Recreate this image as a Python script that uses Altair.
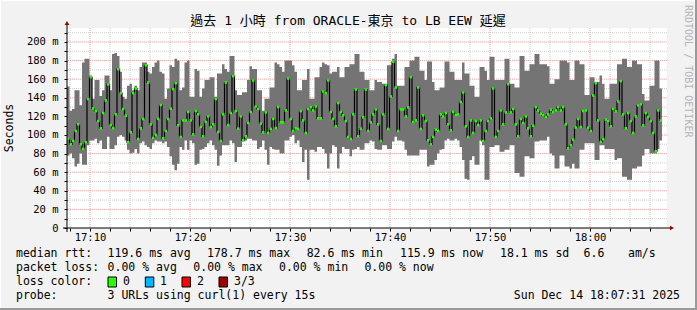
import altair as alt
import pandas as pd

# ---------------- values (milliseconds) ----------------
RTT_MAX = [
    152, 126, 128, 148, 148, 132, 178, 182, 182, 164, 139, 159, 159, 142, 148, 164, 164, 148, 187, 188,
    185, 168, 141, 139, 153, 155, 148, 153, 148, 173, 178, 178, 168, 166, 173, 178, 180, 168, 166, 139,
    150, 175, 173, 182, 180, 148, 151, 178,
    180, 141, 141, 171, 169, 141, 150, 159, 159, 162, 162, 141, 166, 166, 176, 171, 168, 185, 185, 148,
    143, 143, 146, 146, 159, 174, 171, 171, 148, 148, 126, 139, 139, 151, 151, 178, 176, 173, 168, 180,
    180, 180, 175, 168, 148, 148, 159, 159,
    171, 139, 139, 162, 162, 173, 178, 176, 175, 166, 168, 168, 173, 162, 162, 173, 173, 176, 176, 187,
    187, 168, 168, 159, 159, 148, 148, 159, 157, 157, 155, 155, 175, 175, 182, 187, 153, 153, 153, 173,
    173, 180, 180, 184, 184, 169, 169, 159,
    179, 179, 157, 148, 148, 151, 151, 179, 179, 168, 168, 159, 159, 159, 178, 166, 166, 153, 153, 141,
    141, 173, 173, 169, 159, 184, 184, 159, 159, 159, 159, 182, 182, 155, 155, 151, 151, 185, 185, 169,
    169, 176, 176, 187, 187, 176, 176, 176,
    174, 155, 155, 160, 160, 180, 180, 180, 178, 159, 159, 180, 180, 176, 176, 143, 143, 162, 162, 157,
    157, 164, 155, 139, 139, 155, 155, 155, 176, 176, 182, 182, 173, 173, 180, 180, 176, 176, 144, 137,
    137, 153, 153, 180, 180, 150,
]
RTT_MIN = [
    78, 80, 75, 66, 69, 80, 68, 68, 89, 94, 94, 96, 91, 94, 85, 85, 98, 85, 85, 89,
    98, 100, 98, 94, 84, 80, 81, 85, 80, 91, 93, 89, 87, 85, 91, 94, 93, 93, 91, 93,
    87, 77, 68, 62, 69, 87, 84, 94,
    84, 94, 91, 68, 69, 84, 85, 87, 91, 94, 89, 84, 67, 78, 89, 89, 89, 94, 91, 71,
    87, 87, 93, 94, 96, 96, 94, 94, 85, 87, 94, 84, 68, 87, 85, 84, 84, 80, 80, 94,
    94, 98, 100, 91, 94, 87, 71, 84,
    52, 84, 84, 82, 87, 87, 85, 80, 64, 80, 89, 87, 64, 80, 87, 85, 85, 77, 84, 85,
    87, 84, 84, 91, 91, 94, 93, 85, 84, 84, 89, 89, 85, 85, 93, 98, 94, 94, 93, 84,
    78, 78, 78, 78, 78, 84, 84, 84,
    66, 68, 68, 73, 80, 84, 85, 94, 96, 94, 94, 96, 94, 87, 73, 53, 52, 73, 77, 68,
    68, 94, 89, 52, 52, 87, 87, 89, 89, 82, 82, 84, 84, 89, 89, 59, 59, 55, 55, 77,
    77, 75, 75, 93, 93, 94, 94, 94,
    98, 80, 78, 64, 64, 78, 78, 66, 66, 64, 69, 64, 64, 84, 84, 91, 91, 91, 91, 73,
    73, 89, 89, 85, 85, 85, 85, 73, 75, 75, 55, 55, 52, 52, 64, 64, 66, 66, 78, 85,
    85, 80, 80, 80, 85, 94,
]
RTT_MEDIAN = [
    96.1, 90, 93.6, 104.3, 111.5, 90, 85, 92.2, 138.6, 162.2, 128.6, 125.7, 115, 107.2, 123.6, 137.2,
    154.3, 110.7, 107.5, 122.2, 170.7, 145, 127.9, 120.7, 92.2, 102.9, 145, 150, 95.7, 107.2, 117.2, 175,
    156.4, 111.5, 96.8, 100, 117.2, 132.2, 96.5, 104.3, 117.2, 128.2, 149.3, 155.7, 110.4, 97.9, 115.7, 115.7,
    124.7, 115.7, 100.7, 125.7, 122.2, 108.6, 98.6, 114, 120, 108.6, 111.5, 138.6, 103.2, 93.6, 122.2, 156.4,
    110.7, 123.6, 163.2, 125.7, 106.8, 120, 94.3, 98.6, 112.9, 124.7, 158.6, 130.7, 127.9, 112.2, 102.9, 124.3,
    102.2, 106.5, 117.2, 107.5, 130, 113.6, 113.6, 126.4, 160.7, 117.2, 104.3, 107.2, 106.5, 125.7, 115.7, 102.2,
    127.9, 130, 126.4, 130.7, 117.9, 117.9, 146.8, 145, 158.6, 124.7, 117.2, 109.3, 134.3, 124.7, 121.1, 115,
    97.9, 95.7, 122.2, 148.9, 98.6, 106.8, 119, 148.9, 104.3, 113.6, 122.2, 127.5, 111.5, 93.6, 122.2, 153.6,
    106.5, 141.4, 178.7, 151.1, 104.3, 127.5, 127.5, 120, 129.7, 162.2, 114, 115.7, 151.1, 106.5, 121.1, 115,
    94.3, 90, 97.9, 105.7, 104.3, 122.2, 120, 123.6, 111.5, 105, 124.7, 121.5, 122.2, 135.4, 145.7, 109.3,
    97.9, 115.7, 102.2, 115, 110.7, 115.7, 93.6, 104.3, 115, 117.9, 150, 97.9, 104.3, 126.4, 111.5, 124.3,
    154.6, 124.3, 127.9, 111.5, 98.6, 117.2, 112.9, 120, 107.2, 98.6, 110, 130, 126.4, 122.9, 121.5, 119.3,
    122.2, 127.2, 124.7, 126.4, 130, 126.4, 130, 111.5, 85.7, 89, 95, 107.9, 117.2, 108.6, 125.7, 126.4,
    107.9, 104.3, 142.5, 155.7, 115.7, 92.5, 95.7, 116.5, 115, 109.3, 127.9, 125.4, 136.1, 157.9, 122.2, 107.2,
    123.6, 115, 102.2, 120, 131.8, 132.9, 110.4, 123.6, 119.3, 115, 102.2, 82.6, 126.4, 115.7,
]

START_MIN = 7.7      # first sample 17:07:42, minutes after 17:00
STEP_MIN = 0.25      # one sample every 15 s
X_DOMAIN = [7.7, 67.7]
Y_DOMAIN = [0, 215]
X_TICKS = list(range(8, 67, 2))
MAJOR_X = [10, 20, 30, 40, 50, 60]
MINOR_X = [v for v in X_TICKS if v % 10 != 0]
Y_TICKS = list(range(0, 211, 10))
MAJOR_Y = list(range(20, 201, 20))
MINOR_Y = list(range(10, 211, 20))

TITLE = "過去 1 小時 from ORACLE-東京 to LB EEW 延遲"
Y_TITLE = "Seconds"
SIDE_TEXT = "RRDTOOL / TOBI OETIKER"
LEGEND_TEXT = [
    "median rtt:", "119.6 ms avg", "178.7 ms max", "82.6 ms min", "115.9 ms now", "18.1 ms sd", "6.6", "am/s",
    "packet loss:", "0.00 % avg", "0.00 % max", "0.00 % min", "0.00 % now",
    "loss color:", "0", "1", "2", "3/3",
    "probe:", "3 URLs using curl(1) every 15s",
]
LEGEND_X = [16, 107.6, 207, 306.7, 400, 500, 583.6, 628,
            16, 107.6, 193.3, 279, 364.4,
            16, 123, 160, 197, 234,
            16, 107.6]
LEGEND_Y = [254] * 8 + [268] * 5 + [282] * 5 + [296] * 2
DATE_TEXT = "Sun Dec 14 18:07:31 2025"
LOSS_COLORS = ["#26ff00", "#00b8ff", "#ff0000", "#a00000"]
LOSS_BOX_X = [108, 145.3, 182, 219]

FONT = "DejaVu Sans Mono, Noto Sans CJK TC, Noto Sans CJK SC"
OX, OY = 67, 28          # plot origin in the 697x310 picture
W, H = 600, 200

# ---------------- tables ----------------
n = len(RTT_MEDIAN)
rows = []
samples = []
for i in range(n):
    t0 = START_MIN + i * STEP_MIN
    t1 = t0 + STEP_MIN
    samples.append({"t0": t0, "t1": t1, "med": RTT_MEDIAN[i]})
    for k, t in enumerate((t0, t1)):
        rows.append({"seq": 2 * i + k, "t": t, "lo": RTT_MIN[i], "hi": RTT_MAX[i], "med": RTT_MEDIAN[i]})
steps = pd.DataFrame(rows)
samples = pd.DataFrame(samples)

xs = alt.Scale(domain=X_DOMAIN, nice=False, zero=False)
ys = alt.Scale(domain=Y_DOMAIN, nice=False, zero=False)

x_label = ("datum.value % 10 == 0 ? ((datum.value >= 60 ? '18:' : '17:') + "
           "(datum.value % 60 == 0 ? '00' : '' + (datum.value % 60))) : ''")
y_label = "datum.value % 20 == 0 ? (datum.value == 0 ? '0\u00a0\u00a0' : datum.value + ' m') : ''"

xaxis = alt.Axis(values=X_TICKS, labelExpr=x_label, title=None, grid=False, domain=False,
                 tickSize=3, tickColor="#000000", labelFont=FONT, labelFontSize=10.5,
                 labelColor="#000000", labelPadding=1, labelFlush=False, labelOverlap=False,
                 labelBound=False)
yaxis = alt.Axis(values=Y_TICKS, labelExpr=y_label, title=None, grid=False, domain=False,
                 tickSize=3, tickColor="#000000", labelFont=FONT, labelFontSize=10.5,
                 labelColor="#000000", labelPadding=6, labelFlush=False, labelOverlap=False,
                 labelBound=False)


def sx(field):
    return alt.X(f"{field}:Q", scale=xs, axis=xaxis)


def sy(field, **kw):
    return alt.Y(f"{field}:Q", scale=ys, axis=yaxis, **kw)


grid_minor_x = alt.Chart(pd.DataFrame({"t": MINOR_X})).mark_rule(
    color="#cfcfcf", strokeDash=[1, 1], strokeWidth=1).encode(x=sx("t"))
grid_major_x = alt.Chart(pd.DataFrame({"t": MAJOR_X})).mark_rule(
    color="#ffa0a0", strokeDash=[1, 1], strokeWidth=1).encode(x=sx("t"))
grid_minor_y = alt.Chart(pd.DataFrame({"v": MINOR_Y})).mark_rule(
    color="#cfcfcf", strokeDash=[1, 1], strokeWidth=1).encode(y=sy("v"))
grid_major_y = alt.Chart(pd.DataFrame({"v": MAJOR_Y})).mark_rule(
    color="#ffa0a0", strokeDash=[1, 1], strokeWidth=1).encode(y=sy("v"))

smoke = alt.Chart(steps).mark_area(color="#747474", interpolate="linear").encode(
    x=sx("t"), y=sy("lo", stack=None), y2="hi:Q")
median_line = alt.Chart(steps).mark_line(color="#000000", strokeWidth=1.2).encode(
    x=sx("t"), y=sy("med"), order="seq:Q")
median_dots = alt.Chart(samples).mark_rule(color="#26ff00", strokeWidth=2.5).encode(
    x=sx("t0"), x2="t1:Q", y=sy("med"))


def px(field):
    return alt.X(f"{field}:Q", scale=None, axis=None)


def py(field):
    return alt.Y(f"{field}:Q", scale=None, axis=None)


# axis lines + arrows
axis_lines = alt.Chart(pd.DataFrame({
    "x": [-4, 0], "x2": [W + 3, 0], "y": [H, H + 4], "y2": [H, -3]})).mark_rule(
    color="#000000", strokeWidth=1).encode(x=px("x"), x2="x2:Q", y=py("y"), y2="y2:Q")
arrows = alt.Chart(pd.DataFrame({"x": [W + 5, 0], "y": [H, -5],
                                 "s": ["triangle-right", "triangle-up"]})).mark_point(
    filled=True, color="#990000", size=22, opacity=1).encode(
    x=px("x"), y=py("y"), shape=alt.Shape("s:N", scale=None))

# frame of the picture
frame = alt.Chart(pd.DataFrame({
    "x": [-OX, -OX + 0.5, 697 - OX - 1, -OX], "x2": [697 - OX, -OX + 0.5, 697 - OX - 1, 697 - OX],
    "y": [-OY + 0.5, -OY, -OY, 310 - OY - 1], "y2": [-OY + 0.5, 310 - OY, 310 - OY, 310 - OY - 1],
    "c": ["#ffffff", "#ffffff", "#9a9a9a", "#9a9a9a"], "w": [1, 1, 2, 2]})).mark_rule().encode(
    x=px("x"), x2="x2:Q", y=py("y"), y2="y2:Q",
    color=alt.Color("c:N", scale=None), strokeWidth=alt.StrokeWidth("w:Q", scale=None))

title = alt.Chart(pd.DataFrame({"x": [348 - OX], "y": [21 - OY], "t": [TITLE]})).mark_text(
    font=FONT, fontSize=13, align="center", baseline="middle", color="#000000").encode(
    x=px("x"), y=py("y"), text="t:N")
ytitle = alt.Chart(pd.DataFrame({"x": [10 - OX], "y": [128 - OY], "t": [Y_TITLE]})).mark_text(
    font=FONT, fontSize=11.5, align="center", baseline="middle", angle=270, color="#000000").encode(
    x=px("x"), y=py("y"), text="t:N")
side = alt.Chart(pd.DataFrame({"x": [688 - OX], "y": [5 - OY], "t": [SIDE_TEXT]})).mark_text(
    font=FONT, fontSize=10, align="left", baseline="middle", angle=90, color="#b4b4b4").encode(
    x=px("x"), y=py("y"), text="t:N")

legend = alt.Chart(pd.DataFrame({
    "x": [v - OX for v in LEGEND_X], "y": [v - OY for v in LEGEND_Y], "t": LEGEND_TEXT})).mark_text(
    font=FONT, fontSize=11.5, align="left", baseline="middle", color="#000000").encode(
    x=px("x"), y=py("y"), text="t:N")
date = alt.Chart(pd.DataFrame({"x": [680 - OX], "y": [296 - OY], "t": [DATE_TEXT]})).mark_text(
    font=FONT, fontSize=11.5, align="right", baseline="middle", color="#000000").encode(
    x=px("x"), y=py("y"), text="t:N")
boxes = alt.Chart(pd.DataFrame({
    "x": [v - OX for v in LOSS_BOX_X], "x2": [v - OX + 8.5 for v in LOSS_BOX_X],
    "y": [277 - OY] * 4, "y2": [287 - OY] * 4, "c": LOSS_COLORS})).mark_rect(
    stroke="#000000", strokeWidth=1).encode(
    x=px("x"), x2="x2:Q", y=py("y"), y2="y2:Q", fill=alt.Fill("c:N", scale=None))

chart = alt.layer(
    grid_minor_x, grid_major_x, grid_minor_y, grid_major_y,
    smoke, median_line, median_dots,
    axis_lines, arrows, frame, title, ytitle, side, legend, date, boxes,
).properties(
    width=W, height=H,
    padding={"left": OX, "top": OY, "right": 697 - OX - W, "bottom": 310 - OY - H},
    autosize=alt.AutoSizeParams(type="none"),
).configure(background="#f2f2f2").configure_view(stroke=None, fill="#ffffff")

chart.save("out.html", embed_options={"renderer": "svg", "actions": False})
